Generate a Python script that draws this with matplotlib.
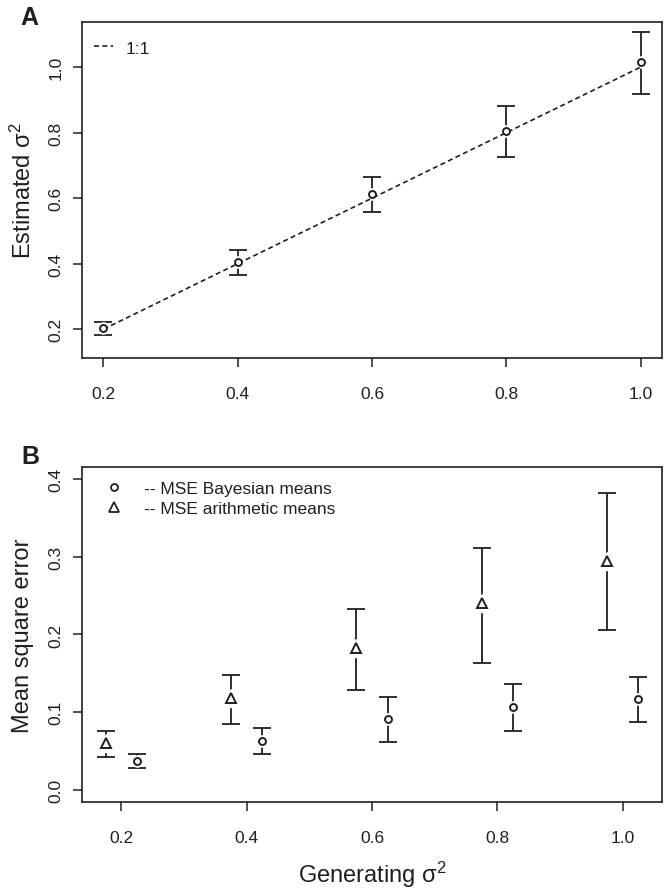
import matplotlib
matplotlib.use("Agg")
import matplotlib.pyplot as plt
from matplotlib.lines import Line2D

plt.rcParams['font.family'] = ['Liberation Sans', 'DejaVu Sans']
plt.rcParams['mathtext.fontset'] = 'custom'
plt.rcParams['mathtext.rm'] = 'Liberation Sans'
plt.rcParams['mathtext.it'] = 'Liberation Sans:italic'

INK = '#231f20'

# panel A: estimated vs generating sigma^2
gen_sigma = [0.2, 0.4, 0.6, 0.8, 1.0]
est_sigma = [0.203, 0.405, 0.612, 0.806, 1.016]
est_low = [0.183, 0.366, 0.557, 0.727, 0.919]
est_high = [0.222, 0.441, 0.665, 0.882, 1.108]

# panel B: mean square errors
x_arith = [0.175, 0.375, 0.575, 0.775, 0.975]
mse_arith = [0.060, 0.118, 0.182, 0.240, 0.295]
arith_low = [0.042, 0.085, 0.128, 0.163, 0.206]
arith_high = [0.075, 0.148, 0.233, 0.312, 0.383]

x_bayes = [0.225, 0.425, 0.625, 0.825, 1.025]
mse_bayes = [0.037, 0.063, 0.091, 0.106, 0.117]
bayes_low = [0.028, 0.046, 0.061, 0.076, 0.087]
bayes_high = [0.046, 0.080, 0.119, 0.136, 0.145]

ticks_x = [0.2, 0.4, 0.6, 0.8, 1.0]

fig = plt.figure(figsize=(6.66, 8.95), dpi=100)
axA = fig.add_axes([0.1231, 0.5989, 0.8709, 0.3754])
axB = fig.add_axes([0.1231, 0.1028, 0.8709, 0.3743])


def draw_err(ax, x, y, lo, hi, marker, ms, halo):
    yerr = [[v - l for v, l in zip(y, lo)], [h - v for v, h in zip(y, hi)]]
    ax.errorbar(x, y, yerr=yerr, fmt='none', ecolor=INK, elinewidth=1.3,
                capsize=6.5, capthick=1.3, zorder=2)
    # white halo so the bar stops short of the symbol
    ax.plot(x, y, ls='none', marker=marker, ms=halo, mfc='white', mec='white', zorder=3)
    ax.plot(x, y, ls='none', marker=marker, ms=ms, mfc='white', mec=INK, mew=1.4, zorder=5)


def style_axes(ax):
    for s in ax.spines.values():
        s.set_linewidth(1.2)
        s.set_color(INK)
    ax.tick_params(direction='out', length=6.5, width=1.1, color=INK,
                   labelsize=12.5, labelcolor=INK)
    ax.tick_params(axis='x', pad=14)
    ax.tick_params(axis='y', pad=7)
    for lab in ax.get_yticklabels():
        lab.set_rotation(90)
        lab.set_va('center')


# ---- A ----
draw_err(axA, gen_sigma, est_sigma, est_low, est_high, 'o', 5, 8)
axA.plot([gen_sigma[0], gen_sigma[-1]], [gen_sigma[0], gen_sigma[-1]],
         ls=(0, (3, 2)), color=INK, lw=1.2, zorder=4)
axA.set_xlim(0.168, 1.032)
axA.set_ylim(0.112, 1.138)
axA.set_xticks(ticks_x)
axA.set_xticklabels(['0.2', '0.4', '0.6', '0.8', '1.0'])
axA.set_yticks([0.2, 0.4, 0.6, 0.8, 1.0])
axA.set_yticklabels(['0.2', '0.4', '0.6', '0.8', '1.0'])
style_axes(axA)
hA = [Line2D([], [], ls=(0, (3, 2)), color=INK, lw=1.2)]
axA.legend(hA, ['1:1'], loc='upper left', bbox_to_anchor=(0.009, 0.966),
           frameon=False, fontsize=12.5, handlelength=1.1, handletextpad=0.7,
           borderaxespad=0, labelcolor=INK)

# ---- B ----
draw_err(axB, x_arith, mse_arith, arith_low, arith_high, '^', 7, 13)
draw_err(axB, x_bayes, mse_bayes, bayes_low, bayes_high, 'o', 5, 8)
axB.set_xlim(0.137, 1.063)
axB.set_ylim(-0.016, 0.416)
axB.set_xticks(ticks_x)
axB.set_xticklabels(['0.2', '0.4', '0.6', '0.8', '1.0'])
axB.set_yticks([0.0, 0.1, 0.2, 0.3, 0.4])
axB.set_yticklabels(['0.0', '0.1', '0.2', '0.3', '0.4'])
style_axes(axB)
hB = [Line2D([], [], ls='none', marker='o', ms=5, mfc='white', mec=INK, mew=1.3),
      Line2D([], [], ls='none', marker='^', ms=7, mfc='white', mec=INK, mew=1.3)]
axB.legend(hB, ['-- MSE Bayesian means', '-- MSE arithmetic means'],
           loc='upper left', bbox_to_anchor=(0.029, 0.979), frameon=False,
           fontsize=12.5, handlelength=1.0, handletextpad=1.2,
           borderaxespad=0, labelspacing=0.3, labelcolor=INK)

# labels
fig.text(23 / 666, 1 - 191 / 895, 'Estimated σ$^2$', rotation=90,
         ha='center', va='center', fontsize=17, color=INK)
fig.text(23 / 666, 1 - 636 / 895, 'Mean square error', rotation=90,
         ha='center', va='center', fontsize=17, color=INK)
fig.text(372 / 666, 1 - 875 / 895, 'Generating σ$^2$',
         ha='center', va='center', fontsize=17, color=INK)
fig.text(29 / 666, 1 - 18 / 895, 'A', ha='center', va='center',
         fontsize=18, fontweight='bold', color=INK)
fig.text(30 / 666, 1 - 457 / 895, 'B', ha='center', va='center',
         fontsize=18, fontweight='bold', color=INK)

fig.savefig('out.png', dpi=100)
